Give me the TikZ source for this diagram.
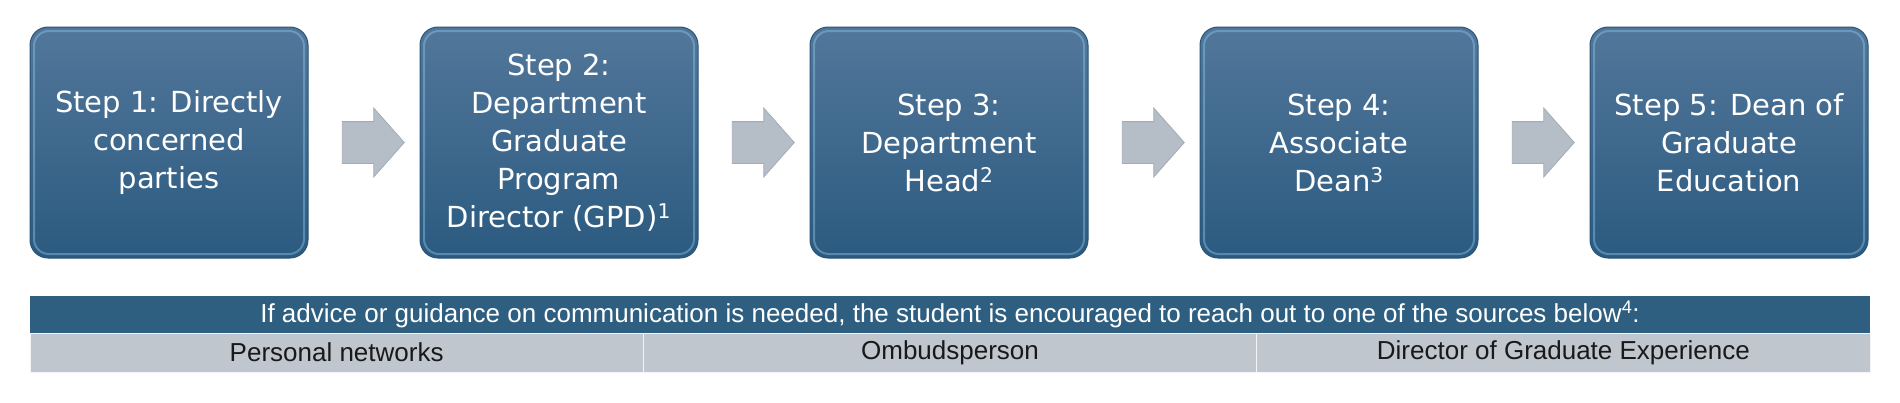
\documentclass[tikz,border=0pt]{standalone}
\usepackage{fontspec}
\setmainfont{DejaVu Sans}
\newfontfamily\tablefont{Liberation Sans}
\usetikzlibrary{positioning,shapes.arrows,calc}

\definecolor{steptop}{HTML}{52779A}
\definecolor{stepbot}{HTML}{2B5A80}
\definecolor{stepedge}{HTML}{2A5478}
\definecolor{bevelblue}{HTML}{8CC3E6}
\definecolor{flowgray}{HTML}{B5BDC7}
\definecolor{flowedge}{HTML}{A3ACB8}
\definecolor{hdrblue}{HTML}{2E5F80}
\definecolor{rowgray}{HTML}{BFC6CE}

\tikzset{
	stepbox/.style={rectangle, rounded corners=18pt, draw=stepedge, line width=1pt,
		top color=steptop, bottom color=stepbot, minimum width=278pt, minimum height=231pt,
		inner sep=0pt, outer sep=0pt, text=white, align=center,
		font=\fontsize{29}{38}\selectfont},
	bevel/.style={draw=bevelblue, line width=2pt, rounded corners=15pt, opacity=0.45},
	flowarrow/.style={single arrow, draw=flowedge, fill=flowgray, line width=0.8pt,
		minimum height=62pt, inner xsep=0pt, inner ysep=20.5pt, outer sep=0pt,
		single arrow head extend=13.5pt, single arrow tip angle=97,
		single arrow head indent=0pt},
	hdrcell/.style={rectangle, fill=hdrblue, minimum width=1840pt, minimum height=37pt,
		inner sep=0pt, outer sep=0pt, text=white,
		font=\tablefont\fontsize{26}{30}\selectfont},
	srccell/.style={rectangle, fill=rowgray, draw=white!80!rowgray, line width=1pt,
		minimum width=613.33pt, minimum height=39pt, inner sep=0pt, outer sep=0pt,
		text=black!90, font=\tablefont\fontsize{26}{30}\selectfont}
}

\begin{document}
\begin{tikzpicture}[x=1pt, y=-1pt, node distance=112pt]
	\useasboundingbox[fill=white] (0,0) rectangle (1900,402);

	\node[stepbox] (s1) at (169,142.5) {Step 1: Directly\\concerned\\parties};
	\node[stepbox] (s2)[right=of s1] {Step 2:\\Department\\Graduate\\Program\\Director (GPD)\textsuperscript{1}};
	\node[stepbox] (s3)[right=of s2] {Step 3:\\Department\\Head\textsuperscript{2}};
	\node[stepbox] (s4)[right=of s3] {Step 4:\\Associate\\Dean\textsuperscript{3}};
	\node[stepbox] (s5)[right=of s4] {Step 5: Dean of\\Graduate\\Education};

	\foreach \s in {s1,s2,s3,s4,s5}
		\draw[bevel] ([shift={(4,4)}]\s.north west) rectangle ([shift={(-4,-4)}]\s.south east);

	\foreach \a/\b in {s1/s2,s2/s3,s3/s4,s4/s5}
		\node[flowarrow] (\a\b) at ($(\a.east)!0.5!(\b.west)$) {};

	\node[hdrcell] (hdr) at (950,314.5) {If advice or guidance on communication is needed, the student is encouraged to reach out to one of the sources below\textsuperscript{4}:};
	\node[srccell, anchor=north west] (src1) at (hdr.south west) {Personal networks};
	\node[srccell] (src2)[right=0pt of src1] {Ombudsperson};
	\node[srccell] (src3)[right=0pt of src2] {Director of Graduate Experience};
\end{tikzpicture}
\end{document}
